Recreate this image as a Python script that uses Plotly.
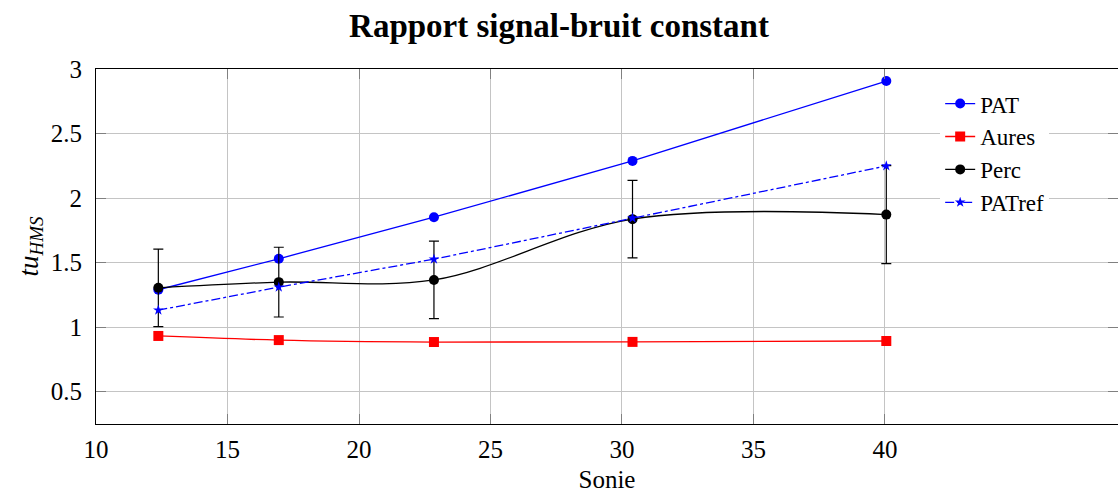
import plotly.graph_objects as go

# Data
sonie = [12.37, 16.95, 22.85, 30.4, 40.05]
pat = [1.29, 1.53, 1.852, 2.288, 2.907]
aures = [0.932, 0.900, 0.885, 0.886, 0.893]
perc = [1.305, 1.349, 1.366, 1.837, 1.872]
perc_err = [0.30, 0.27, 0.30, 0.30, 0.38]
patref = [1.132, 1.31, 1.527, 1.845, 2.249]

x_ticks = [10, 15, 20, 25, 30, 35, 40]
y_ticks = [0.5, 1, 1.5, 2, 2.5, 3]

FONT = "Liberation Serif"

fig = go.Figure()
fig.add_trace(go.Scatter(
    x=sonie, y=pat, name="PAT", mode="lines+markers",
    line=dict(color="#0000ff", width=1.3),
    marker=dict(symbol="circle", size=10, color="#0000ff"),
))
fig.add_trace(go.Scatter(
    x=sonie, y=aures, name="Aures", mode="lines+markers",
    line=dict(color="#ff0000", width=1.3, shape="spline", smoothing=1),
    marker=dict(symbol="square", size=10, color="#ff0000"),
))
fig.add_trace(go.Scatter(
    x=sonie, y=perc, name="Perc", mode="lines+markers",
    line=dict(color="#000000", width=1.3, shape="spline", smoothing=1),
    marker=dict(symbol="circle", size=10, color="#000000"),
    error_y=dict(type="data", array=perc_err, visible=True, color="#000000",
                 thickness=1.2, width=5),
))
fig.add_trace(go.Scatter(
    x=sonie, y=patref, name="PATref", mode="lines+markers",
    line=dict(color="#0000ff", width=1.3, dash="dashdot"),
    marker=dict(symbol="star", size=8, color="#0000ff"),
))

axis_common = dict(
    showgrid=True, gridcolor="#c4c4c4", gridwidth=1,
    showline=True, linecolor="#000000", linewidth=1.2, mirror="ticks",
    ticks="inside", ticklen=10, tickcolor="#808080", tickwidth=1,
    zeroline=False,
    tickfont=dict(family=FONT, size=25, color="#000000"),
)

fig.update_layout(
    width=1118, height=494,
    margin=dict(l=96, r=0, t=69, b=70),
    paper_bgcolor="white", plot_bgcolor="white",
    title=dict(text="<b>Rapport signal-bruit constant</b>", x=0.5, xanchor="center",
               y=0.949, yanchor="middle",
               font=dict(family=FONT, size=33, color="#000000")),
    xaxis=dict(range=[10, 48.86], tickvals=x_ticks,
               title=dict(text="Sonie", font=dict(family=FONT, size=25, color="#000000"), standoff=8),
               ticklabelstandoff=3, **axis_common),
    yaxis=dict(range=[0.25, 3], tickvals=y_ticks, ticktext=[str(v) for v in y_ticks],
               title=dict(text="<i>tu</i><sub><i>HMS</i></sub>",
                          font=dict(family=FONT, size=27, color="#000000"), standoff=4),
               ticklabelstandoff=8, **axis_common),
    legend=dict(x=0.826, y=0.963, xanchor="left", yanchor="top",
                bgcolor="white", borderwidth=0, tracegroupgap=0,
                font=dict(family=FONT, size=23, color="#000000")),
    showlegend=True,
)

fig.write_html("out.html", config={"displayModeBar": False},
               post_script="document.body.style.margin='0px';")
